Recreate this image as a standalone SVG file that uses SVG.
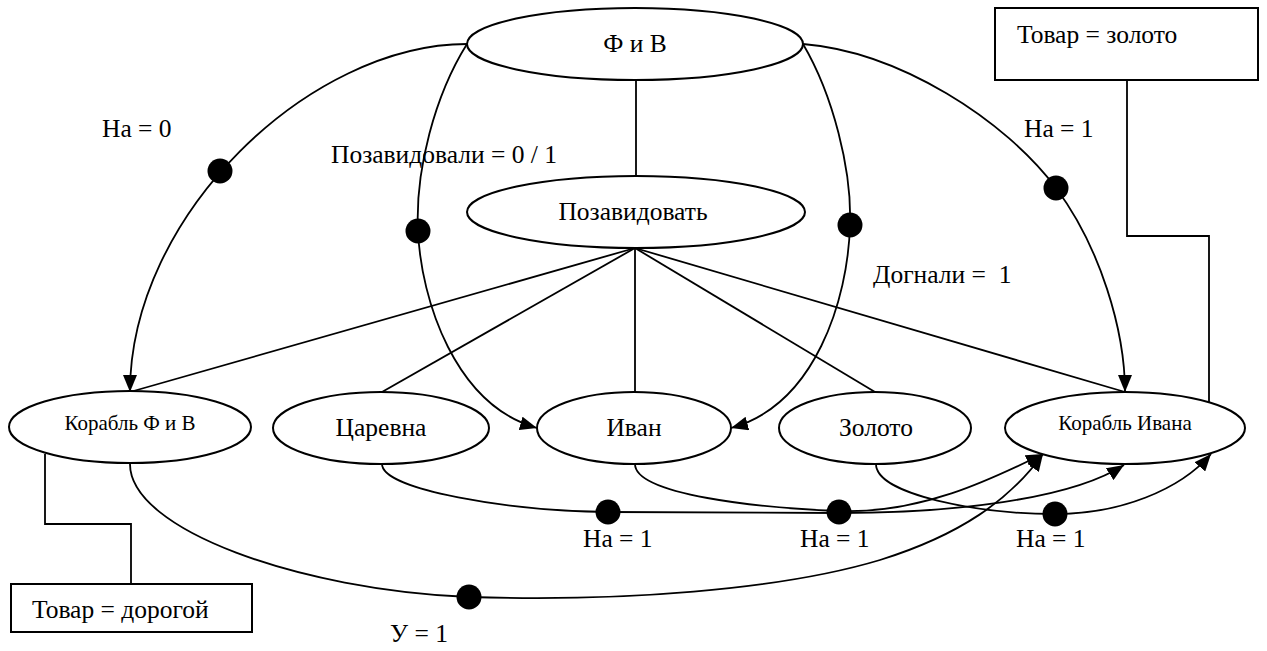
<svg xmlns="http://www.w3.org/2000/svg" width="1267" height="651" viewBox="0 0 1267 651">
<style>
  .node { fill: #fff; stroke: #000; stroke-width: 2; }
  .box { fill: #fff; stroke: #000; stroke-width: 2; }
  .edge { fill: none; stroke: #000; stroke-width: 1.8; }
  .arr { fill: none; stroke: #000; stroke-width: 1.8; marker-end: url(#arrow); }
  .dot { fill: #000; }
  .t { font-family: 'Liberation Serif', 'Times New Roman', 'DejaVu Serif', serif; font-size: 25.5px; fill: #000; }
  .ts { font-family: 'Liberation Serif', 'Times New Roman', 'DejaVu Serif', serif; font-size: 21px; fill: #000; }
</style>
<defs>
  <marker id="arrow" markerWidth="18" markerHeight="14" refX="17" refY="7" orient="auto" markerUnits="userSpaceOnUse">
    <path d="M0,0 L17,7 L0,14 z" fill="#000"/>
  </marker>
</defs>
<rect width="1267" height="651" fill="#fff"/>

<g id="connectors">
  <line class="edge" x1="636" y1="80" x2="636" y2="177"/>
  <line class="edge" x1="635" y1="248" x2="130" y2="392"/>
  <line class="edge" x1="635" y1="248" x2="382" y2="392"/>
  <line class="edge" x1="635" y1="248" x2="635" y2="392"/>
  <line class="edge" x1="635" y1="248" x2="875" y2="392"/>
  <line class="edge" x1="635" y1="248" x2="1125" y2="392"/>
  <polyline class="edge" points="1127,80 1127,236 1209,236 1209,403"/>
  <polyline class="edge" points="45,454 45,524 131,524 131,584"/>
  <path class="arr" d="M467,44 C310,44 130,215 130,392"/>
  <path class="arr" d="M467,44 C435,95 415,170 418,231 C421,300 455,405 537,428"/>
  <path class="arr" d="M803,44 C833,95 852,170 850,225 C848,300 815,405 731,428"/>
  <path class="arr" d="M803,44 C900,52 1005,120 1056,188 C1100,247 1125,330 1125,392"/>
  <path class="arr" d="M382,464 C382,490 510,511 608,512 C700,513 790,513 839,513 C950,513 1070,500 1124,465"/>
  <path class="arr" d="M635,464 C635,495 760,508 839,511 C920,514 990,480 1043,454"/>
  <path class="arr" d="M876,464 C876,495 980,514 1055,514 C1120,514 1180,490 1211,454"/>
  <path class="arr" d="M130,464 C130,530 300,590 469,597 C620,602 780,590 880,560 C960,535 1010,500 1043,454"/>
  <circle class="dot" cx="220" cy="171" r="12.5"/>
  <circle class="dot" cx="418" cy="231" r="12.5"/>
  <circle class="dot" cx="850" cy="225" r="12.5"/>
  <circle class="dot" cx="1056" cy="188" r="12.5"/>
  <circle class="dot" cx="608" cy="512" r="12.5"/>
  <circle class="dot" cx="839" cy="512" r="12.5"/>
  <circle class="dot" cx="1055" cy="514" r="12.5"/>
  <circle class="dot" cx="469" cy="597" r="12.5"/>
  <text class="t" font-family="Liberation Serif, serif" x="102" y="137">На = 0</text>
  <text class="t" font-family="Liberation Serif, serif" x="331" y="163">Позавидовали = 0 / 1</text>
  <text class="t" font-family="Liberation Serif, serif" x="1024" y="137">На = 1</text>
  <text class="t" font-family="Liberation Serif, serif" x="873" y="283" xml:space="preserve">Догнали =  1</text>
  <text class="t" font-family="Liberation Serif, serif" x="583" y="547">На = 1</text>
  <text class="t" font-family="Liberation Serif, serif" x="800" y="547">На = 1</text>
  <text class="t" font-family="Liberation Serif, serif" x="1016" y="547">На = 1</text>
  <text class="t" font-family="Liberation Serif, serif" x="390" y="642">У = 1</text>
</g>

<g id="node-fiv">
  <ellipse class="node" cx="635" cy="44" rx="168" ry="36"/>
  <text class="t" font-family="Liberation Serif, serif" x="635" y="52" text-anchor="middle">Ф и В</text>
</g>
<g id="node-pozavidovat">
  <ellipse class="node" cx="636" cy="212" rx="169" ry="36"/>
  <text class="t" font-family="Liberation Serif, serif" x="633" y="220" text-anchor="middle">Позавидовать</text>
</g>
<g id="node-korabl-fiv">
  <ellipse class="node" cx="130" cy="427" rx="121" ry="36"/>
  <text class="ts" font-family="Liberation Serif, serif" x="130" y="430" text-anchor="middle">Корабль Ф и В</text>
</g>
<g id="node-tsarevna">
  <ellipse class="node" cx="381" cy="428" rx="108" ry="36"/>
  <text class="t" font-family="Liberation Serif, serif" x="381" y="436" text-anchor="middle">Царевна</text>
</g>
<g id="node-ivan">
  <ellipse class="node" cx="634" cy="428" rx="97" ry="36"/>
  <text class="t" font-family="Liberation Serif, serif" x="634" y="436" text-anchor="middle">Иван</text>
</g>
<g id="node-zoloto">
  <ellipse class="node" cx="875" cy="428" rx="96" ry="36"/>
  <text class="t" font-family="Liberation Serif, serif" x="876" y="436" text-anchor="middle">Золото</text>
</g>
<g id="node-korabl-ivana">
  <ellipse class="node" cx="1125" cy="428" rx="120" ry="36"/>
  <text class="ts" font-family="Liberation Serif, serif" x="1125" y="430" text-anchor="middle">Корабль Ивана</text>
</g>
<g id="box-tovar-zoloto">
  <rect class="box" x="995" y="8" width="263" height="72"/>
  <text class="t" font-family="Liberation Serif, serif" x="1017" y="43">Товар = золото</text>
</g>
<g id="box-tovar-dorogoy">
  <rect class="box" x="11" y="584" width="241" height="48"/>
  <text class="t" font-family="Liberation Serif, serif" x="32" y="618">Товар = дорогой</text>
</g>
</svg>
